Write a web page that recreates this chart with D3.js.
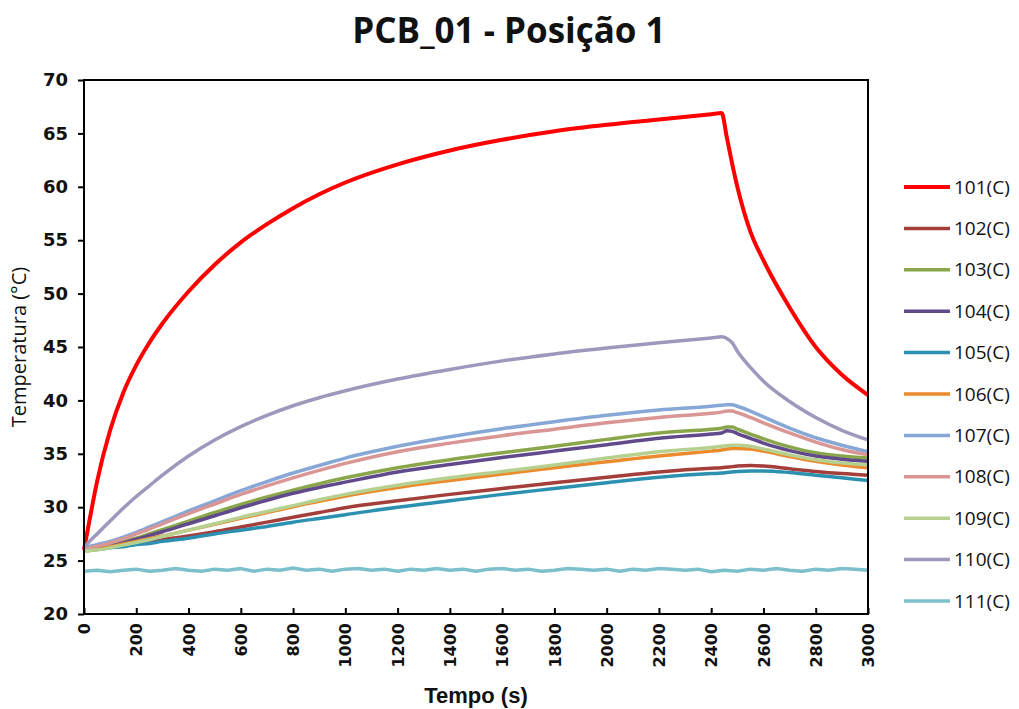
<!DOCTYPE html>
<html>
<head>
<meta charset="utf-8">
<script src="https://cdn.jsdelivr.net/npm/d3@7"></script>
<style>
  body { margin: 0; background: #fff; }
  .eixo .domain { display: none; }
</style>
</head>
<body>
<svg id="grafico" width="1019" height="709"></svg>
<script>
// tempo (s) comum aos sensores 101..110
const tempo = [0, 25, 50, 100, 150, 200, 250, 300, 400, 500, 600, 700, 800, 900, 1000,
  1200, 1400, 1600, 1800, 2000, 2200, 2400, 2440, 2460, 2480, 2500, 2550, 2600, 2700, 2800, 2900, 3000];

const s101 = [26.0, 29.3, 32.4, 37.2, 40.7, 43.3, 45.4, 47.2, 50.2, 52.7, 54.8, 56.5, 58.0, 59.3, 60.4,
  62.1, 63.4, 64.4, 65.2, 65.8, 66.3, 66.8, 66.9, 64.6, 62.2, 60.0, 55.8, 53.1, 48.7, 45.0, 42.4, 40.5];
const s102 = [26.0, 26.05, 26.1, 26.25, 26.4, 26.55, 26.75, 26.95, 27.3, 27.7, 28.15, 28.6, 29.05, 29.5, 29.95,
  30.6, 31.2, 31.75, 32.3, 32.8, 33.3, 33.65, 33.7, 33.75, 33.8, 33.85, 33.9, 33.85, 33.6, 33.35, 33.15, 33.0];
const s103 = [26.0, 26.05, 26.15, 26.4, 26.75, 27.1, 27.5, 27.9, 28.7, 29.5, 30.25, 30.95, 31.6, 32.2, 32.75,
  33.7, 34.45, 35.1, 35.7, 36.35, 36.95, 37.3, 37.4, 37.5, 37.5, 37.3, 36.85, 36.4, 35.65, 35.1, 34.8, 34.6];
const s104 = [26.0, 26.05, 26.1, 26.35, 26.65, 27.0, 27.35, 27.7, 28.45, 29.2, 29.95, 30.65, 31.3, 31.85, 32.35,
  33.3, 34.0, 34.65, 35.25, 35.85, 36.45, 36.85, 36.95, 37.15, 37.1, 36.9, 36.45, 36.0, 35.3, 34.8, 34.5, 34.3];
const s105 = [26.0, 26.0, 26.05, 26.2, 26.3, 26.5, 26.6, 26.8, 27.1, 27.5, 27.85, 28.2, 28.6, 28.95, 29.3,
  30.0, 30.6, 31.2, 31.75, 32.3, 32.8, 33.15, 33.2, 33.25, 33.3, 33.35, 33.4, 33.4, 33.25, 33.0, 32.75, 32.5];
const s106 = [25.9, 25.95, 26.05, 26.3, 26.55, 26.8, 27.05, 27.3, 27.85, 28.4, 28.95, 29.5, 30.05, 30.55, 31.05,
  31.85, 32.5, 33.1, 33.7, 34.25, 34.8, 35.25, 35.35, 35.45, 35.5, 35.5, 35.45, 35.25, 34.75, 34.3, 33.95, 33.7];
const s107 = [26.2, 26.35, 26.5, 26.8, 27.2, 27.65, 28.15, 28.65, 29.65, 30.6, 31.55, 32.4, 33.2, 33.9, 34.6,
  35.7, 36.6, 37.35, 38.0, 38.6, 39.1, 39.45, 39.55, 39.6, 39.6, 39.45, 39.0, 38.45, 37.4, 36.5, 35.8, 35.2];
const s108 = [26.1, 26.2, 26.35, 26.65, 27.05, 27.5, 27.95, 28.45, 29.4, 30.3, 31.2, 32.0, 32.75, 33.45, 34.1,
  35.2, 36.0, 36.7, 37.3, 37.9, 38.4, 38.8, 38.9, 39.0, 39.0, 38.85, 38.4, 37.9, 36.95, 36.1, 35.4, 34.9];
const s109 = [25.9, 25.95, 26.0, 26.2, 26.45, 26.7, 26.95, 27.25, 27.85, 28.45, 29.05, 29.6, 30.15, 30.7, 31.2,
  32.05, 32.75, 33.35, 33.95, 34.6, 35.2, 35.6, 35.7, 35.75, 35.8, 35.8, 35.7, 35.45, 34.9, 34.45, 34.15, 33.95];
const s110 = [26.2, 26.9, 27.5, 28.7, 29.9, 31.0, 32.0, 33.0, 34.8, 36.3, 37.55, 38.6, 39.5, 40.25, 40.9,
  42.0, 42.9, 43.7, 44.35, 44.9, 45.4, 45.85, 45.95, 45.8, 45.4, 44.6, 43.1, 41.8, 39.9, 38.4, 37.2, 36.3];

// sensor 111 (ambiente) medido a cada 50 s
const tempo111 = d3.range(0, 3001, 50);
const s111 = [24.0, 24.1, 23.95, 24.1, 24.2, 24.0, 24.1, 24.25, 24.1, 24.0,
  24.2, 24.1, 24.25, 24.0, 24.2, 24.1, 24.3, 24.1, 24.2, 24.0,
  24.2, 24.25, 24.1, 24.2, 24.0, 24.2, 24.1, 24.25, 24.1, 24.2,
  24.0, 24.2, 24.25, 24.1, 24.2, 24.0, 24.1, 24.25, 24.2, 24.1,
  24.2, 24.0, 24.2, 24.1, 24.25, 24.2, 24.1, 24.2, 23.95, 24.1,
  24.0, 24.2, 24.1, 24.25, 24.1, 24.0, 24.2, 24.1, 24.25, 24.2,
  24.1];

const nomes = ["101(C)", "102(C)", "103(C)", "104(C)", "105(C)", "106(C)", "107(C)", "108(C)", "109(C)", "110(C)", "111(C)"];
const cores = ["#ff0000", "#a33e3b", "#8aa64a", "#604a8b", "#2c91b0", "#ec8a2e", "#87a7d6", "#d99694", "#b6d18f", "#9e98bd", "#7cc0cc"];
const ticksY = [20, 25, 30, 35, 40, 45, 50, 55, 60, 65, 70];
const ticksX = [0, 200, 400, 600, 800, 1000, 1200, 1400, 1600, 1800, 2000, 2200, 2400, 2600, 2800, 3000];

const valores = [s101, s102, s103, s104, s105, s106, s107, s108, s109, s110];
const series = valores.map(function(v, i) {
  return { nome: nomes[i], cor: cores[i], pontos: v.map(function(d, j) { return [tempo[j], d]; }) };
});
series.push({ nome: nomes[10], cor: cores[10], pontos: s111.map(function(d, j) { return [tempo111[j], d]; }) });

const margin = { top: 80, right: 151, bottom: 95, left: 84 };
const width = 1019 - margin.left - margin.right;
const height = 709 - margin.top - margin.bottom;

const svg = d3.select("#grafico");
const g = svg.append("g").attr("transform", "translate(" + margin.left + "," + margin.top + ")");

const x = d3.scaleLinear().domain([0, 3000]).range([0, width]);
const y = d3.scaleLinear().domain([20, 70]).range([height, 0]);

// eixo Y
const eixoY = g.append("g")
  .attr("class", "eixo")
  .call(d3.axisLeft(y).tickValues(ticksY).tickSize(6).tickPadding(10));
eixoY.selectAll("line").attr("stroke", "#000").attr("stroke-width", 2);
eixoY.selectAll("text")
  .style("font-family", "'DejaVu Sans', sans-serif")
  .style("font-weight", "bold")
  .style("font-size", "18px")
  .attr("fill", "#111");

// eixo X - ticks para dentro, texto girado
const eixoX = g.append("g")
  .attr("class", "eixo")
  .attr("transform", "translate(0," + height + ")")
  .call(d3.axisBottom(x).tickValues(ticksX).tickFormat(d3.format("d")).tickSize(-6).tickPadding(0));
eixoX.selectAll("line").attr("stroke", "#000").attr("stroke-width", 2);
eixoX.selectAll("text")
  .style("font-family", "'DejaVu Sans', sans-serif")
  .style("font-weight", "bold")
  .style("font-size", "16px")
  .attr("fill", "#111")
  .attr("transform", "rotate(-90)")
  .attr("x", -9)
  .attr("y", 0)
  .attr("dy", "0.35em")
  .style("text-anchor", "end");

// linhas (111 é ruidosa, vai sem suavizar)
const linha = d3.line()
  .x(function(d) { return x(d[0]); })
  .y(function(d) { return y(d[1]); })
  .curve(d3.curveMonotoneX);
const linhaRuido = d3.line()
  .x(function(d) { return x(d[0]); })
  .y(function(d) { return y(d[1]); });

g.selectAll(".serie")
  .data(series)
  .enter()
  .append("path")
  .attr("class", "serie")
  .attr("d", function(d, i) { return i === 10 ? linhaRuido(d.pontos) : linha(d.pontos); })
  .attr("fill", "none")
  .attr("stroke", function(d) { return d.cor; })
  .attr("stroke-width", function(d, i) { return i === 0 ? 4 : 3.5; })
  .attr("stroke-linejoin", "round");

// moldura da área do gráfico
g.append("rect")
  .attr("x", 0).attr("y", 0)
  .attr("width", width).attr("height", height)
  .attr("fill", "none")
  .attr("stroke", "#000")
  .attr("stroke-width", 2);

// titulos
svg.append("text")
  .attr("x", 509).attr("y", 43)
  .attr("text-anchor", "middle")
  .style("font-family", "'Open Sans', sans-serif")
  .style("font-weight", "bold")
  .style("font-size", "35px")
  .attr("fill", "#111")
  .text("PCB_01 - Posição 1");

svg.append("text")
  .attr("x", margin.left + width / 2).attr("y", 703)
  .attr("text-anchor", "middle")
  .style("font-family", "'Liberation Sans', sans-serif")
  .style("font-weight", "bold")
  .style("font-size", "22px")
  .attr("fill", "#111")
  .text("Tempo (s)");

svg.append("text")
  .attr("transform", "translate(26," + (margin.top + height / 2) + ") rotate(-90)")
  .attr("text-anchor", "middle")
  .style("font-family", "'Open Sans', sans-serif")
  .style("font-size", "20px")
  .attr("fill", "#111")
  .text("Temperatura (°C)");

// legenda
const legenda = svg.append("g").attr("transform", "translate(904,187)");
const itens = legenda.selectAll(".item")
  .data(series)
  .enter()
  .append("g")
  .attr("transform", function(d, i) { return "translate(0," + (i * 41.4) + ")"; });
itens.append("line")
  .attr("x1", 0).attr("x2", 46)
  .attr("stroke", function(d) { return d.cor; })
  .attr("stroke-width", function(d, i) { return i === 0 ? 4 : 3.5; });
itens.append("text")
  .attr("x", 50)
  .attr("dy", "0.35em")
  .style("font-family", "'Open Sans', sans-serif")
  .style("font-size", "19px")
  .attr("fill", "#111")
  .text(function(d) { return d.nome; });
</script>
</body>
</html>
